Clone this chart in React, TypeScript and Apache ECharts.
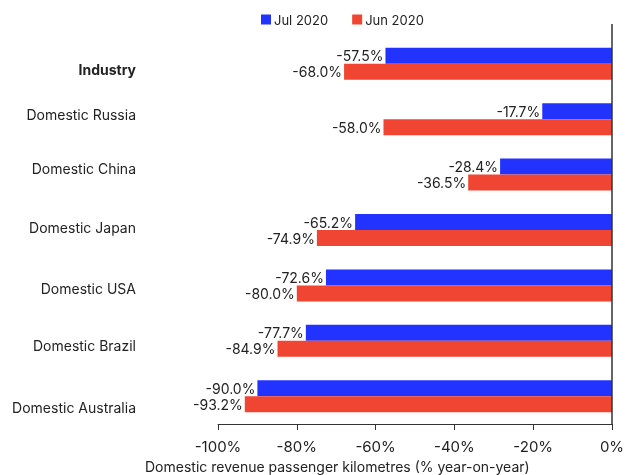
import React, { useEffect, useRef } from "react";
import * as echarts from "echarts";

const categories = [
  "Industry",
  "Domestic Russia",
  "Domestic China",
  "Domestic Japan",
  "Domestic USA",
  "Domestic Brazil",
  "Domestic Australia",
];
const jul2020 = [-57.5, -17.7, -28.4, -65.2, -72.6, -77.7, -90.0];
const jun2020 = [-68.0, -58.0, -36.5, -74.9, -80.0, -84.9, -93.2];
const xTicks = [-100, -80, -60, -40, -20, 0];

// vertical nudge of each category label (px, + = down), as in the original
const labelShift = [6, -5, -6, -3, 3, 5, 11];

const FONT = "Inter, 'Noto Sans', sans-serif";

export default function App() {
  const ref = useRef<HTMLDivElement>(null);
  useEffect(() => {
    if (!ref.current) return;
    const chart = echarts.init(ref.current, undefined, { renderer: "svg" });
    const labelFmt = (p: any) => p.value.toFixed(1) + "%";
    const rich: Record<string, any> = {};
    labelShift.forEach((s, i) => {
      rich["r" + i] = {
        fontSize: 14,
        color: "#222",
        fontFamily: FONT,
        fontWeight: i === 0 ? "bold" : "normal",
        padding: s >= 0 ? [2 * s, 0, 0, 0] : [0, 0, -2 * s, 0],
      };
    });
    chart.setOption({
      animation: false,
      textStyle: { fontFamily: FONT },
      legend: {
        top: 8,
        left: 256,
        itemWidth: 10,
        itemHeight: 10,
        itemGap: 24,
        icon: "rect",
        textStyle: { fontSize: 13, color: "#222", fontFamily: FONT, padding: [0, 0, 0, -2] },
        data: ["Jul 2020", "Jun 2020"],
      },
      grid: { left: 218, right: 17, top: 36, bottom: 51 },
      xAxis: {
        type: "value",
        min: -100,
        max: 0,
        interval: 20,
        axisLine: { show: true, lineStyle: { color: "#333", width: 1 } },
        axisTick: { show: true, length: 6, lineStyle: { color: "#333" } },
        axisLabel: {
          fontSize: 15,
          color: "#222",
          margin: 15,
          formatter: (v: number) => (xTicks.includes(v) ? v + "%" : ""),
        },
        splitLine: { show: false },
      },
      yAxis: {
        type: "category",
        data: categories,
        inverse: true,
        position: "left",
        axisLine: { show: false },
        axisTick: { show: false },
        axisLabel: {
          margin: 82,
          fontSize: 14,
          color: "#222",
          formatter: (v: string, i: number) => "{r" + i + "|" + v + "}",
          rich,
        },
      },
      series: [
        {
          name: "Jul 2020",
          type: "bar",
          data: jul2020,
          barWidth: 16,
          barGap: "0%",
          itemStyle: { color: "#2233ff" },
          label: { show: true, position: "left", distance: 2, fontSize: 14, color: "#222", formatter: labelFmt },
        },
        {
          name: "Jun 2020",
          type: "bar",
          data: jun2020,
          barWidth: 16,
          barGap: "0%",
          itemStyle: { color: "#f04533" },
          label: { show: true, position: "left", distance: 2, fontSize: 14, color: "#222", formatter: labelFmt },
        },
      ],
      graphic: [
        {
          type: "text",
          left: 145,
          top: 459,
          style: {
            text: "Domestic revenue passenger kilometres (% year-on-year)",
            fontSize: 14,
            fill: "#222",
            fontFamily: FONT,
          },
        },
      ],
    });
    const x0 = chart.convertToPixel({ xAxisIndex: 0 }, 0) as number;
    const yBottom = chart.convertToPixel({ yAxisIndex: 0 }, categories[categories.length - 1]) as number;
    chart.setOption({
      graphic: [
        {
          type: "text",
          left: 145,
          top: 459,
          style: {
            text: "Domestic revenue passenger kilometres (% year-on-year)",
            fontSize: 14,
            fill: "#222",
            fontFamily: FONT,
          },
        },
        {
          type: "line",
          shape: { x1: x0, y1: 24, x2: x0, y2: 424 },
          style: { stroke: "#333", lineWidth: 1.5 },
          z: 10,
        },
      ],
    });
    void yBottom;
    return () => chart.dispose();
  }, []);
  return <div ref={ref} style={{ width: 629, height: 475, position: "fixed", left: 0, top: 0 }} />;
}
